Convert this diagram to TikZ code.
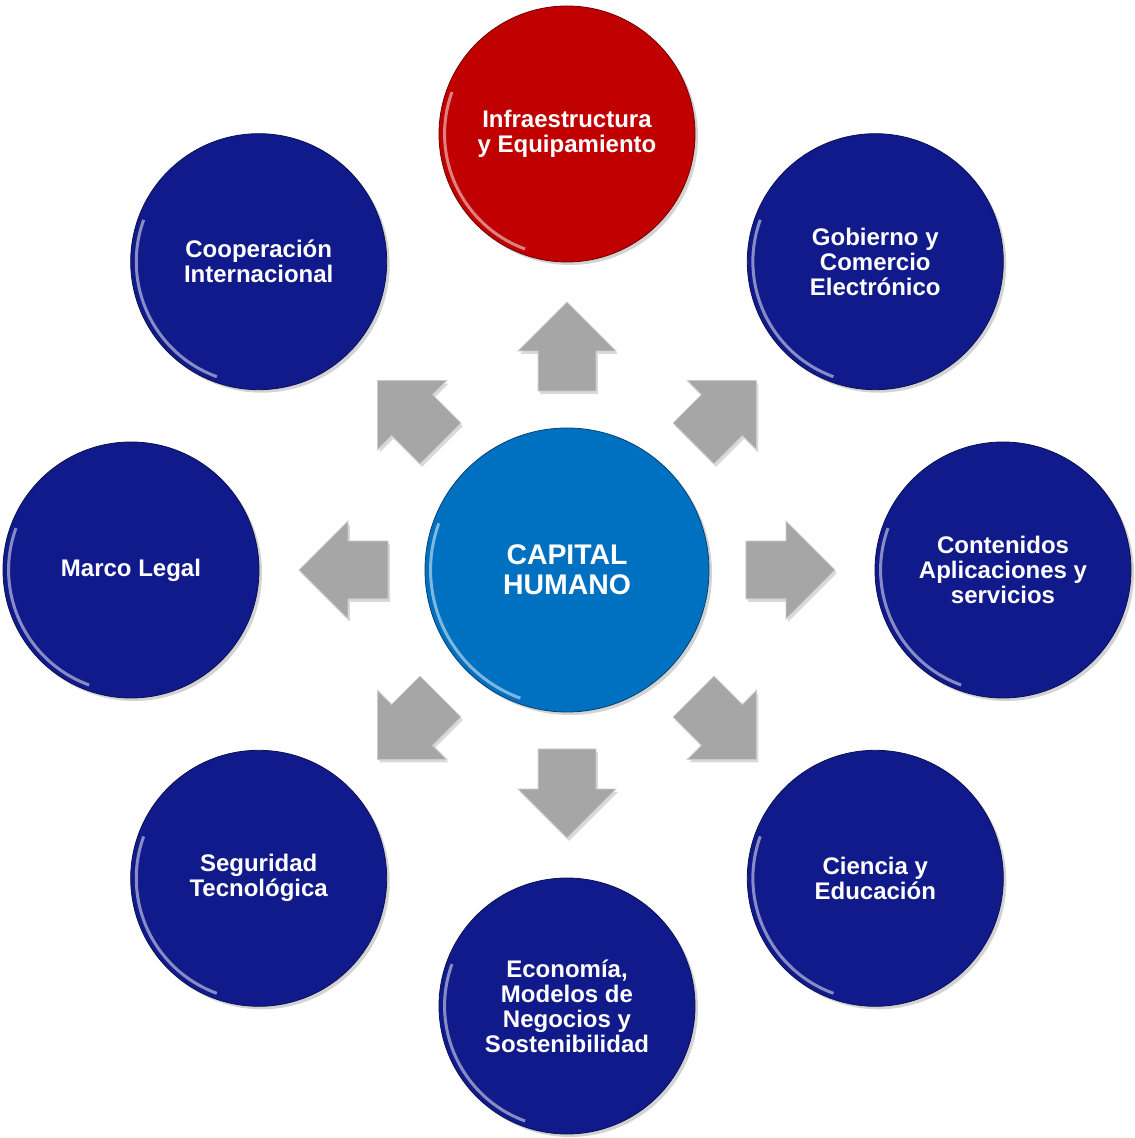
\documentclass[tikz,border=0pt]{standalone}
\usepackage{fontspec}
\setmainfont{Liberation Sans}
\usetikzlibrary{shapes.arrows,shadows,calc}
\definecolor{navy}{HTML}{111A8A}
\definecolor{capblue}{HTML}{0070C0}
\definecolor{infrared}{HTML}{C00000}
\definecolor{arrowgray}{HTML}{A6A6A6}

\tikzset{
  topic/.style={circle, fill=navy, draw=navy!60!black, minimum size=128pt, inner sep=0pt,
    align=center, text=white, font=\bfseries\fontsize{12}{12.5}\selectfont,
    drop shadow={opacity=0.35, shadow xshift=1.5pt, shadow yshift=-1.5pt}},
  hub/.style={topic, fill=capblue, draw=capblue!60!black, minimum size=142pt,
    font=\bfseries\fontsize{14.2}{15}\selectfont},
  blockarrow/.style={single arrow, fill=arrowgray, draw=gray!40, inner xsep=0pt, inner ysep=14.25pt,
    minimum height=44.5pt, single arrow head extend=10pt,
    drop shadow={opacity=0.3, shadow xshift=1pt, shadow yshift=-1.5pt}},
  gloss/.style={white, opacity=0.5, line width=1.5pt}
}

\begin{document}
\begin{tikzpicture}[x=0.5pt, y=0.5pt]
  \useasboundingbox (-567,-568) rectangle (567,570);

  % hub and topics
  \node[hub] (capital) at (0,0) {CAPITAL\\HUMANO};
  \node[topic, fill=infrared, draw=infrared!60!black] (infra) at (90:436) {Infraestructura\\y Equipamiento};
  \node[topic] (gobierno) at (45:436) {Gobierno y\\Comercio\\Electrónico};
  \node[topic] (contenidos) at (0:436) {Contenidos\\Aplicaciones y\\servicios};
  \node[topic] (ciencia) at (-45:436) {Ciencia y\\Educación};
  \node[topic] (economia) at (-90:436) {Economía,\\Modelos de\\Negocios y\\Sostenibilidad};
  \node[topic] (seguridad) at (-135:436) {Seguridad\\Tecnológica};
  \node[topic] (marco) at (180:436) {Marco Legal};
  \node[topic] (cooperacion) at (135:436) {Cooperación\\Internacional};

  % block arrows
  \foreach \a/\d in {90/n, 45/ne, 0/e, -45/se, -90/s, -135/sw, 180/w, 135/nw}
    \node[blockarrow, rotate=\a] (arr-\d) at (\a:209) {};

  % rim highlights
  \foreach \c in {capital, infra, gobierno, contenidos, ciencia, economia, seguridad, marco, cooperacion}
    \draw[gloss] let \p1=($(\c.east)-(\c.center)$) in
      ($(\c.center)+(160:\x1-3pt)$) arc[start angle=160, end angle=250, radius=\x1-3pt];
\end{tikzpicture}
\end{document}
